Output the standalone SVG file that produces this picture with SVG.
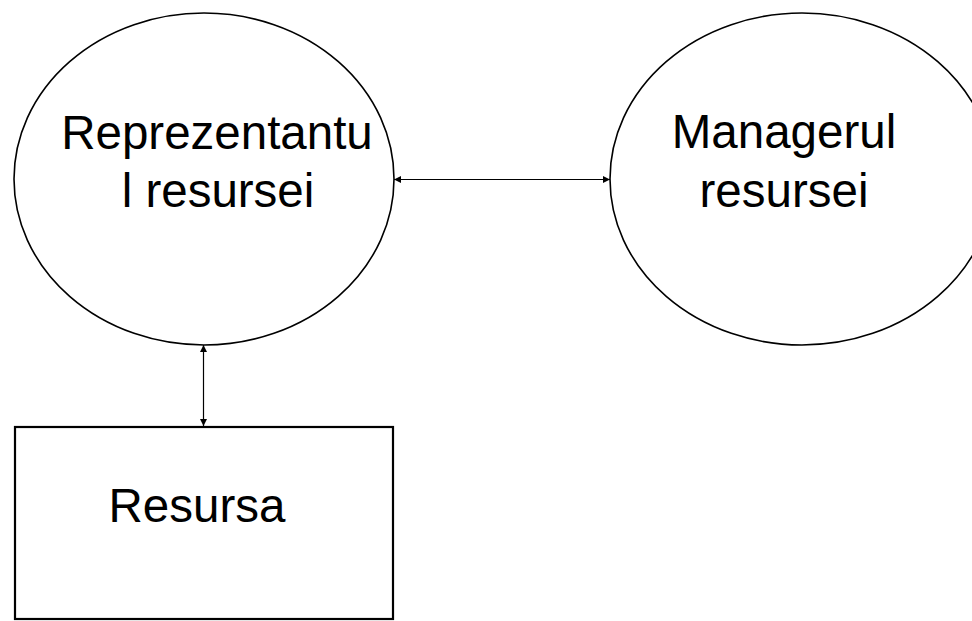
<svg xmlns="http://www.w3.org/2000/svg" width="972" height="621" viewBox="0 0 972 621">
  <style>
    .shape { fill: #ffffff; stroke: #000000; stroke-width: 1.6; }
    .box { fill: #ffffff; stroke: #000000; stroke-width: 2.2; }
    .label { font-family: "Liberation Sans", Arial, sans-serif; font-size: 47.5px; fill: #000000; text-anchor: middle; }
    .link { stroke: #000000; stroke-width: 1.2; fill: none; marker-start: url(#head); marker-end: url(#head); }
  </style>
  <defs>
    <marker id="head" viewBox="0 0 10 10" refX="10" refY="5" markerWidth="9" markerHeight="7" markerUnits="userSpaceOnUse" orient="auto-start-reverse">
      <path d="M0,0 L10,5 L0,10 Z" fill="#000000"/>
    </marker>
  </defs>
  <rect width="972" height="621" fill="#ffffff"/>

  <g id="reprezentant">
    <ellipse class="shape" cx="204" cy="179" rx="190" ry="166"/>
    <text class="label" x="217" y="149">Reprezentantu</text>
    <text class="label" x="218" y="207">l resursei</text>
  </g>

  <g id="manager">
    <ellipse class="shape" cx="802" cy="179" rx="192" ry="166"/>
    <text class="label" x="784" y="148">Managerul</text>
    <text class="label" x="784" y="207">resursei</text>
  </g>

  <g id="resursa">
    <rect class="box" x="15" y="427" width="378" height="192"/>
    <text class="label" x="197" y="522">Resursa</text>
  </g>

  <g id="connectors">
    <line class="link" x1="394" y1="179.5" x2="610" y2="179.5"/>
    <line class="link" x1="203.5" y1="345" x2="203.5" y2="426"/>
  </g>
</svg>
